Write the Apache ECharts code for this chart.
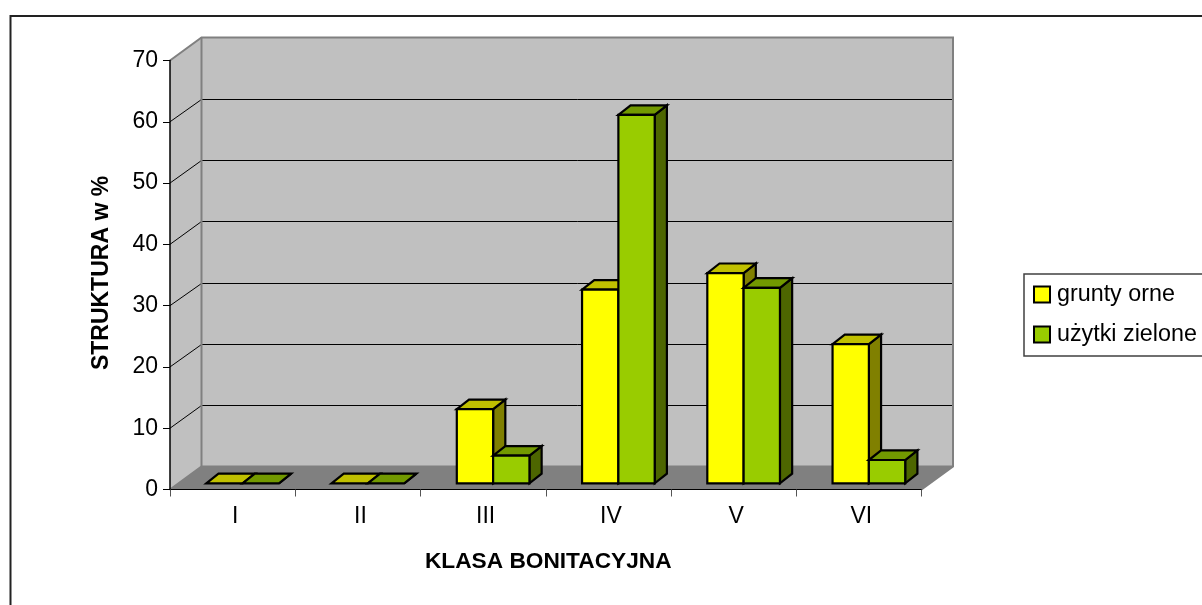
<!DOCTYPE html>
<html>
<head>
<meta charset="utf-8">
<style>html,body{margin:0;padding:0;background:#fff;overflow:hidden}#c{width:1202px;height:605px}</style>
<script src="https://cdn.jsdelivr.net/npm/echarts@6/dist/echarts.min.js"></script>
</head>
<body>
<div id="c"></div>
<script>
const categories = ['I', 'II', 'III', 'IV', 'V', 'VI'];
const gruntyOrne = [0, 0, 12.1, 31.6, 34.3, 22.7];
const uzytkiZielone = [0, 0, 4.5, 60.1, 31.9, 3.8];
const gridTicks = [10, 20, 30, 40, 50, 60, 70];
const FONT = '"Liberation Sans", Arial, sans-serif';

// Oblique projection of the depth axis, in pixels
const WALL = { dx: 31.5, dy: -23 };
const BAR_OFFSET = { dx: 10, dy: -6.2 };
const BAR_DEPTH = { dx: 12.2, dy: -9.6 };
const BAR_SHARE = 0.29;

function poly(points, fill, stroke, lineWidth) {
  return { type: 'polygon', shape: { points },
    style: { fill: fill, stroke: stroke || null, lineWidth: lineWidth || 0, lineJoin: 'miter' } };
}

function bar3d(seriesIdx, front, top, side) {
  return function (params, api) {
    const cat = api.value(0), val = api.value(1);
    const base = api.coord([cat, 0]);
    const head = api.coord([cat, val]);
    const catW = api.size([1, 0])[0];
    const w = catW * BAR_SHARE;
    const x0 = base[0] + BAR_OFFSET.dx + (seriesIdx === 0 ? -w : 0);
    const x1 = x0 + w;
    const yb = base[1] + BAR_OFFSET.dy;
    const yt = head[1] + BAR_OFFSET.dy;
    const dx = BAR_DEPTH.dx, dy = BAR_DEPTH.dy;
    const ls = 2.2;
    const children = [];
    children.push(poly([[x1, yt], [x1 + dx, yt + dy], [x1 + dx, yb + dy], [x1, yb]], side, '#000', ls));
    children.push(poly([[x0, yt], [x1, yt], [x1 + dx, yt + dy], [x0 + dx, yt + dy]], top, '#000', ls));
    if (val > 0) children.push(poly([[x0, yb], [x1, yb], [x1, yt], [x0, yt]], front, '#000', ls));
    return { type: 'group', children };
  };
}

function walls(params, api) {
  const a = api.coord([0, 0]);
  const catW = api.size([1, 0])[0];
  const top = api.coord([0, 70]);
  const xL = a[0] - catW / 2, xR = xL + catW * categories.length;
  const yB = a[1], yT = top[1];
  const d = WALL;
  const kids = [
    poly([[xL, yB], [xL + d.dx, yB + d.dy], [xL + d.dx, yT + d.dy], [xL, yT]], '#c0c0c0'),
    poly([[xL + d.dx, yB + d.dy], [xR + d.dx, yB + d.dy], [xR + d.dx, yT + d.dy], [xL + d.dx, yT + d.dy]], '#c0c0c0'),
    poly([[xL, yB], [xR, yB], [xR + d.dx, yB + d.dy], [xL + d.dx, yB + d.dy]], '#808080')
  ];
  gridTicks.slice(0, -1).forEach(function (t) {
    const y = api.coord([0, t])[1];
    const yBack = Math.round(y + d.dy) + 0.5;
    kids.push({ type: 'polyline', shape: { points: [[xL, y], [xL + d.dx, yBack], [xR + d.dx, yBack]] },
      style: { fill: null, stroke: '#000', lineWidth: 1 } });
  });
  const edge = { fill: null, stroke: '#808080', lineWidth: 2 };
  kids.push({ type: 'polyline', shape: { points: [[xL, yT], [xL + d.dx, yT + d.dy], [xR + d.dx, yT + d.dy], [xR + d.dx, yB + d.dy], [xR, yB]] }, style: edge });
  kids.push({ type: 'polyline', shape: { points: [[xL + d.dx, yT + d.dy], [xL + d.dx, yB + d.dy]] }, style: edge });
  kids.push({ type: 'polyline', shape: { points: [[xL, yB], [xL + d.dx, yB + d.dy], [xR + d.dx, yB + d.dy]] }, style: edge });
  return { type: 'group', children: kids };
}

const chart = echarts.init(document.getElementById('c'), null, { renderer: 'canvas' });
chart.setOption({
  animation: false,
  backgroundColor: '#fff',
  textStyle: { fontFamily: FONT },
  graphic: [{ type: 'rect', silent: true, z: -1,
    shape: { x: 10.5, y: 16, width: 1300, height: 700 },
    style: { fill: null, stroke: '#222', lineWidth: 2 } }],
  grid: { left: 170, top: 60.5, width: 751.5, height: 429 },
  legend: {
    left: 1024, top: 274, orient: 'vertical',
    data: [{ name: 'grunty orne', icon: 'rect' }, { name: 'użytki zielone', icon: 'rect' }],
    itemWidth: 16, itemHeight: 16, itemGap: 17, selectedMode: false,
    padding: [9, 30, 10, 9],
    backgroundColor: '#fff', borderColor: '#404040', borderWidth: 1.5,
    textStyle: { fontFamily: FONT, fontSize: 23.3, color: '#000', padding: [0, 0, 0, 2] }
  },
  xAxis: {
    type: 'category', data: categories, z: 5,
    name: 'KLASA BONITACYJNA', nameLocation: 'middle', nameGap: 61,
    nameTextStyle: { fontFamily: FONT, fontWeight: 'bold', fontSize: 22.7, color: '#000', padding: [0, 0, 0, 5] },
    axisLine: { lineStyle: { color: '#000', width: 1 } },
    axisTick: { show: true, length: 7, alignWithLabel: false, lineStyle: { color: '#555' } },
    axisLabel: { fontFamily: FONT, fontSize: 23, color: '#000', margin: 16, padding: [0, 0, 0, 5] },
    splitLine: { show: false }
  },
  yAxis: {
    type: 'value', min: 0, max: 70, interval: 10, z: 5,
    name: 'STRUKTURA w %', nameLocation: 'middle', nameGap: 57, nameRotate: 90,
    nameTextStyle: { fontFamily: FONT, fontWeight: 'bold', fontSize: 23, color: '#000', padding: [0, 0, 0, 4] },
    axisLine: { show: true, lineStyle: { color: '#000', width: 1.5 } },
    axisTick: { show: true, length: 7, lineStyle: { color: '#000' } },
    axisLabel: { fontFamily: FONT, fontSize: 23, color: '#000', margin: 12 },
    splitLine: { show: false }
  },
  series: [
    { type: 'custom', name: 'walls', silent: true, z: 1, clip: false,
      renderItem: walls, data: [[0, 0]], encode: { x: 0, y: 1 } },
    { type: 'custom', name: 'grunty orne', z: 2, clip: false,
      itemStyle: { color: '#ffff00', borderColor: '#000', borderWidth: 2 },
      renderItem: bar3d(0, '#ffff00', '#c0c000', '#808000'),
      data: gruntyOrne.map(function (v, i) { return [i, v]; }), encode: { x: 0, y: 1 } },
    { type: 'custom', name: 'użytki zielone', z: 3, clip: false,
      itemStyle: { color: '#99cc00', borderColor: '#000', borderWidth: 2 },
      renderItem: bar3d(1, '#99cc00', '#729900', '#4d6600'),
      data: uzytkiZielone.map(function (v, i) { return [i, v]; }), encode: { x: 0, y: 1 } }
  ]
});
</script>
</body>
</html>
